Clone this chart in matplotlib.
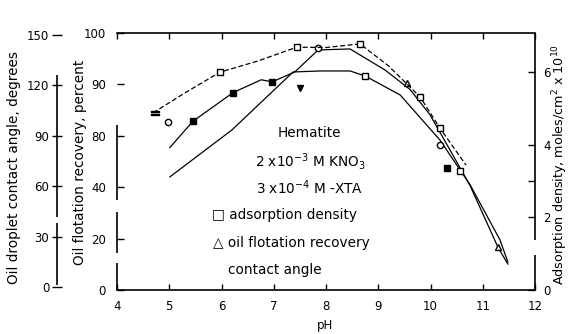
import numpy as np
import matplotlib.pyplot as plt

# tick values
ph_ticks = list(range(4, 13))
rec_ticks = [0, 20, 40, 80, 90, 100]
ca_ticks = [0, 30, 60, 90, 120, 150]
dens_ticks = [0, 2, 4, 6]

# adsorption density curve (right axis) and square points
ph_dens = [4.69, 5.3, 5.97, 6.7, 7.44, 8.0, 8.65, 9.2, 9.8, 10.18, 10.68]
dens = [4.88, 5.43, 6.0, 6.31, 6.69, 6.68, 6.78, 6.17, 5.32, 4.46, 3.44]
ph_dens_pts = [5.97, 7.44, 8.65, 8.75, 9.8, 10.18, 10.56]
dens_pts = [6.0, 6.69, 6.78, 5.9, 5.32, 4.46, 3.28]

# oil flotation recovery curve (inner left axis, broken scale)
ph_rec = [5.01, 5.45, 6.22, 6.76, 6.97, 7.4, 7.85, 8.46, 9.13, 9.61, 9.99, 10.37, 10.76, 11.29, 11.48]
rec = [70.8, 82.8, 88.4, 90.9, 90.5, 92.4, 96.7, 96.9, 92.8, 89.0, 84.1, 69.2, 41.0, 16.7, 10.1]
ph_rec_open = [9.55, 11.29]
rec_open = [90.3, 16.7]
ph_rec_fill = [5.45, 6.22, 6.97, 10.32]
rec_fill = [82.8, 88.4, 90.5, 55.2]
ph_rec_down = [7.5]
rec_down = [89.3]

# contact angle curve (outer left axis)
ph_ca = [5.01, 6.2, 7.37, 7.89, 8.46, 8.75, 9.42, 10.18, 10.76, 11.33, 11.48]
ca = [65.5, 93.5, 128, 128.6, 128.6, 125.6, 114.3, 87.5, 60.7, 28, 14.9]
ph_ca_pts = [4.98, 7.85, 10.18]
ca_pts = [98.2, 142, 84.5]


# broken recovery scale: the ticks are equally spaced
def rec_fwd(v):
    v = np.asarray(v, float)
    return np.where(v < 0, v / 20, np.where(v > 100, 5 + (v - 100) / 10,
                    np.interp(v, rec_ticks, range(6))))


def rec_inv(p):
    p = np.asarray(p, float)
    return np.where(p < 0, p * 20, np.where(p > 5, 100 + (p - 5) * 10,
                    np.interp(p, range(6), rec_ticks)))


fig = plt.figure(figsize=(5.71, 3.34), dpi=100)
rect = [117 / 571, 44 / 334, 418 / 571, 257 / 334]
fs = 8.5
fl = 9.8

# main axes: recovery
ax = fig.add_axes(rect)
ax.set_yscale('function', functions=(rec_fwd, rec_inv))
ax.set_xlim(4, 12)
ax.set_ylim(0, 100)
ax.set_xticks(ph_ticks)
ax.set_yticks(rec_ticks)
ax.set_yticklabels([str(t) for t in rec_ticks])
ax.tick_params(axis='x', direction='in', top=True, length=4, width=1, labelsize=fs, pad=7)
ax.tick_params(axis='y', direction='in', length=5, width=1, labelsize=fs, pad=8)
ax.yaxis.set_minor_locator(plt.NullLocator())
ax.spines['left'].set_visible(False)
ax.spines['right'].set_visible(False)
for s in ['top', 'bottom']:
    ax.spines[s].set_linewidth(1.2)
ax.plot(ph_rec, rec, color='black', lw=0.9)
ax.plot(ph_rec_open, rec_open, ls='none', marker='^', ms=5, mfc='white', mec='black')
ax.plot(ph_rec_fill, rec_fill, ls='none', marker='s', ms=4, color='black')
ax.plot(ph_rec_down, rec_down, ls='none', marker='v', ms=5, color='black')

# outer left axis: contact angle
ax_ca = fig.add_axes(rect, sharex=ax)
ax_ca.patch.set_visible(False)
ax_ca.set_ylim(-1.8, 151.2)
ax_ca.set_yticks(ca_ticks)
for s in ['top', 'bottom', 'right']:
    ax_ca.spines[s].set_visible(False)
ax_ca.spines['left'].set_position(('axes', -60 / 418))
ax_ca.spines['left'].set_visible(False)
ax_ca.tick_params(axis='y', direction='inout', length=7, width=1, labelsize=fs, pad=2)
ax_ca.tick_params(axis='x', bottom=False, labelbottom=False)
ax_ca.plot(ph_ca, ca, color='black', lw=0.9)
ax_ca.plot(ph_ca_pts, ca_pts, ls='none', marker='o', ms=4.5, mfc='white', mec='black')

# right axis: adsorption density
ax_d = fig.add_axes(rect, sharex=ax)
ax_d.patch.set_visible(False)
ax_d.set_ylim(0, 7.08)
ax_d.set_yticks(dens_ticks)
ax_d.set_yticks([3], minor=True)
ax_d.yaxis.tick_right()
for s in ['top', 'bottom', 'left', 'right']:
    ax_d.spines[s].set_visible(False)
ax_d.tick_params(axis='y', which='both', direction='in', length=5, width=1, labelsize=fs, pad=6)
ax_d.tick_params(axis='x', bottom=False, labelbottom=False)
ax_d.plot(ph_dens, dens, color='black', lw=0.9, ls=(0, (4, 2)))
ax_d.plot(ph_dens_pts, dens_pts, ls='none', marker='s', ms=5, mfc='white', mec='black')
ax_d.plot([4.73], [4.88], ls='none', marker='$=$', ms=6, color='black')

# hand drawn spines with the breaks of the original
def spine(x, pieces):
    for a, b in pieces:
        ax.plot([x, x], [(290 - a) / 257, (290 - b) / 257], color='black', lw=1.2,
                transform=ax.transAxes, clip_on=False, solid_capstyle='butt')


spine(0, [(290, 263), (253, 212), (200, 125)])
spine(-60 / 418, [(285, 223), (217, 75)])
spine(1, [(290, 255), (240, 33)])

fig.text(325 / 571, 1 - 325 / 334, 'pH', ha='center', va='center', fontsize=fs)
fig.text(14 / 571, 1 - 168 / 334, 'Oil droplet contact angle, degrees', rotation=90,
         ha='center', va='center', fontsize=fl)
fig.text(80 / 571, 1 - 162 / 334, 'Oil flotation recovery, percent', rotation=90,
         ha='center', va='center', fontsize=fl)
fig.text(560 / 571, 1 - 165 / 334, 'Adsorption density, moles/cm$^2$ x 10$^{10}$', rotation=90,
         ha='center', va='center', fontsize=9.2)

notes = [
    (309, 133, 'center', 'Hematite'),
    (310, 162, 'center', '2 x10$^{-3}$ M KNO$_3$'),
    (310, 188, 'center', '3 x10$^{-4}$ M -XTA'),
    (212, 215, 'left', '\u25a1 adsorption density'),
    (213, 243, 'left', '\u25b3 oil flotation recovery'),
    (228, 270, 'left', 'contact angle'),
]
for px, py, ha, t in notes:
    fig.text(px / 571, 1 - py / 334, t, ha=ha, va='center', fontsize=fl)

fig.savefig('out.png', dpi=100)
